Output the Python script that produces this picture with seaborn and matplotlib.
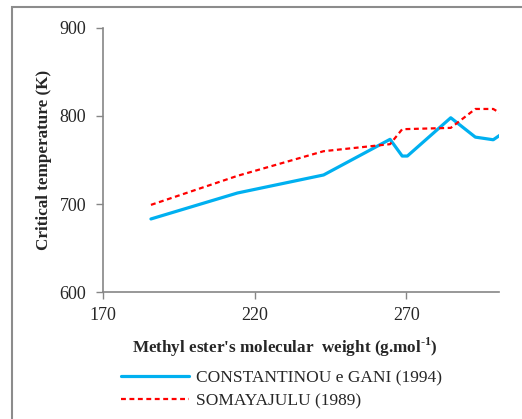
import matplotlib
matplotlib.use("Agg")
import matplotlib.pyplot as plt
import seaborn as sns
import pandas as pd
from matplotlib.patches import Rectangle

# Data
x_const = [185.8, 214.3, 242.7, 264.6, 268.6, 270.3, 284.6, 292.7, 298.6, 302.0]
y_const = [683, 712.5, 733, 773.5, 754.5, 754.5, 798, 776, 773, 781]
x_soma = [185.8, 214.3, 242.7, 264.6, 268.6, 284.6, 292.7, 298.6, 302.0]
y_soma = [699, 732, 760, 768, 785, 786.5, 808, 808, 801]
labels = ["CONSTANTINOU e GANI (1994)", "SOMAYAJULU (1989)"]
xticks = [170, 220, 270]
yticks = [600, 700, 800, 900]

sns.set_style("white")
plt.rcParams['font.family'] = ['Liberation Serif', 'DejaVu Serif']
plt.rcParams['mathtext.fontset'] = 'custom'
plt.rcParams['mathtext.rm'] = 'Liberation Serif'
plt.rcParams['mathtext.bf'] = 'Liberation Serif:bold'

fig = plt.figure(figsize=(5.22, 4.19), dpi=100)
ax = fig.add_axes([103/522, 1-292/419, (499-103)/522, (292-28)/419])

df1 = pd.DataFrame({"x": x_const, "y": y_const})
df2 = pd.DataFrame({"x": x_soma, "y": y_soma})
sns.lineplot(data=df1, x="x", y="y", ax=ax, sort=False, color="#00B0F0",
             linewidth=2.3, label=labels[0], estimator=None)
sns.lineplot(data=df2, x="x", y="y", ax=ax, sort=False, color="#FF0000",
             linewidth=1.6, linestyle=(0, (2.2, 1.6)), label=labels[1], estimator=None)

ax.set_xlim(170, 300.5)
ax.set_ylim(600, 900)
ax.set_xticks(xticks)
ax.set_yticks(yticks)
ax.tick_params(axis='both', which='both', direction='out', length=5, width=1,
               color='#868686', labelsize=13, left=True, bottom=True)
ax.tick_params(axis='y', pad=7)
ax.tick_params(axis='x', pad=6)
for s in ['top', 'right']:
    ax.spines[s].set_visible(False)
for s in ['left', 'bottom']:
    ax.spines[s].set_color('#868686')
    ax.spines[s].set_linewidth(1.2)

ax.set_ylabel("Critical temperature (K)", fontsize=12.3, fontweight='bold')
ax.yaxis.set_label_coords((44 - 103) / (499 - 103), (292 - 160) / (292 - 28))
ax.set_xlabel("Methyl ester's molecular  weight (g.mol$^{\\mathbf{\u2010}\\mathbf{1}}$)",
              fontsize=12.3, fontweight='bold')
ax.xaxis.set_label_coords((284.5 - 103) / (499 - 103), -(347 - 292) / (292 - 28))
ax.xaxis.label.set_verticalalignment('center')
ax.yaxis.label.set_verticalalignment('center')

ax.get_legend().remove()
handles, labs = ax.get_legend_handles_labels()
fig.legend(handles, labs, loc='upper left', bbox_to_anchor=(114/522, 1-363/419),
           frameon=False, fontsize=12.5, handlelength=3.9, handletextpad=0.4,
           labelspacing=0.4, borderaxespad=0)

fig.patches.append(Rectangle((12/522, -0.1), 1.2, (419-7)/419 + 0.1,
                             transform=fig.transFigure, fill=False,
                             edgecolor='#8c8c8c', linewidth=1.5))

fig.savefig("out.png", dpi=100)
